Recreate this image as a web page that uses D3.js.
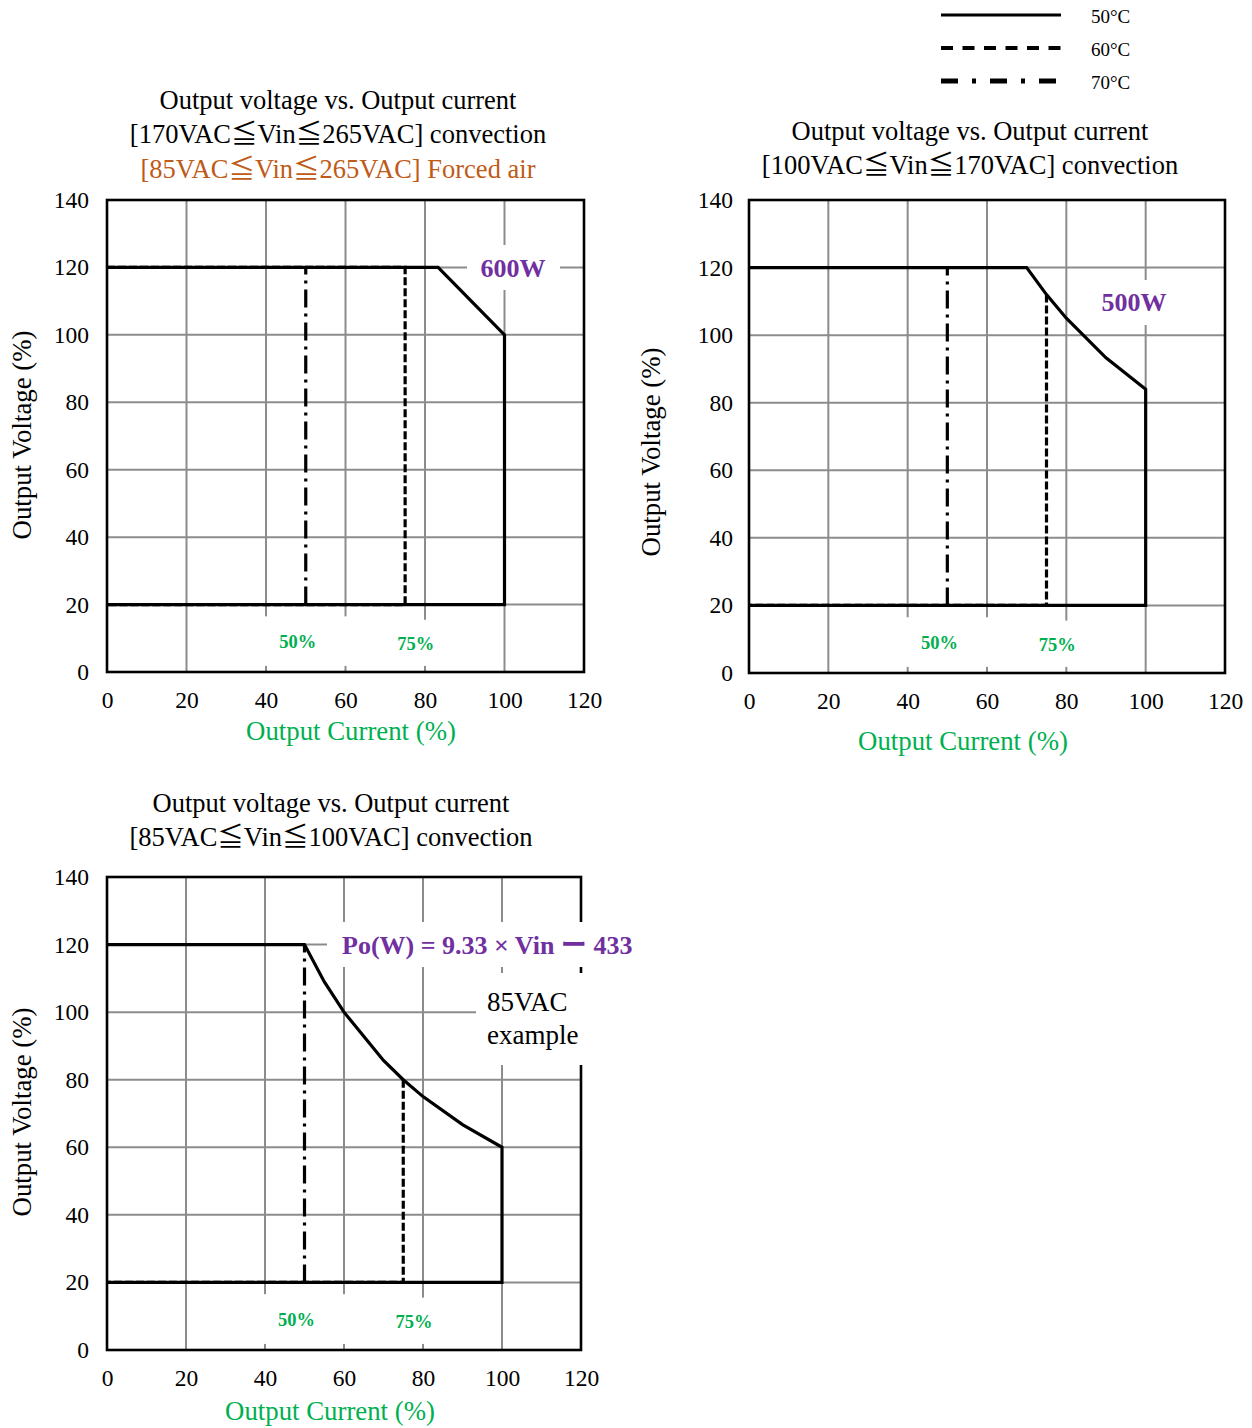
<!DOCTYPE html>
<html><head><meta charset="utf-8">
<script src="https://cdn.jsdelivr.net/npm/d3@7"></script>
<style>body{margin:0;background:#fff}svg{display:block}text{font-family:"Liberation Serif","Times New Roman",serif}</style>
</head><body>
<script>
// ---- data ----
const xTicks = [0, 20, 40, 60, 80, 100, 120];
const yTicks = [0, 20, 40, 60, 80, 100, 120, 140];
const legendLabels = ["50°C", "60°C", "70°C"];

const c1_50 = [[0,120],[83.3,120],[100,100],[100,20],[0,20]];
const c1_60 = [[0,120],[75,120],[75,20],[0,20]];
const c1_70 = [[50,20],[50,120]];

const c2_50 = [[0,120],[70,120],[75,112],[80,105],[90,93.3],[100,84],[100,20],[0,20]];
const c2_60 = [[75,112],[75,20],[0,20]];
const c2_70 = [[50,20],[50,120]];

const c3_50 = [[0,120],[50,120],[55,109],[60,100],[70,85.7],[75,80],[80,75],[90,66.7],[100,60],[100,20],[0,20]];
const c3_60 = [[75,80],[75,20],[0,20]];
const c3_70 = [[50,20],[50,120]];

const titles1 = ["Output voltage vs. Output current", "[170VAC≦Vin≦265VAC] convection", "[85VAC≦Vin≦265VAC] Forced air"];
const titles2 = ["Output voltage vs. Output current", "[100VAC≦Vin≦170VAC] convection"];
const titles3 = ["Output voltage vs. Output current", "[85VAC≦Vin≦100VAC] convection"];
const pctLabels = [["50%", 48, 9], ["75%", 77.7, 8.5]];

// ---- styles ----
const GREEN = "#00b050", PURPLE = "#7030a0", ORANGE = "#c05a17", GRID = "#8c8c8c";
const styles = {
  s50: {w: 3.2, dash: null},
  s60: {w: 3.2, dash: "8,3"},
  s70: {w: 3.2, dash: "18,6,3,6"}
};

const svg = d3.select("body").append("svg").attr("width", 1252).attr("height", 1428);

// text with CJK-width glyphs
function richText(sel, str) {
  str.split(/(≦|ー)/).forEach(part => {
    if (!part) return;
    const ts = sel.append("tspan").text(part);
    if (part === "≦" || part === "ー") ts.attr("font-family", "Noto Sans CJK JP");
  });
}

// legend
const legStyles = [{w:3,dash:null},{w:4,dash:"12,9.5"},{w:5,dash:"17,14,4,14"}];
const legY = d3.scaleBand().domain(legendLabels).range([0, 99]);
legendLabels.forEach((l, i) => {
  const y = legY(l) + 15;
  svg.append("line").attr("x1", 941).attr("x2", 1061).attr("y1", y).attr("y2", y)
    .attr("stroke", "#000").attr("stroke-width", legStyles[i].w)
    .attr("stroke-dasharray", legStyles[i].dash);
  svg.append("text").attr("x", 1091).attr("y", y + 1).attr("dy", "0.35em")
    .attr("font-size", 19).text(l);
});

function drawChart(cfg) {
  const g = svg.append("g");
  const x = d3.scaleLinear().domain([0, 120]).range([cfg.left, cfg.right]);
  const y = d3.scaleLinear().domain([0, 140]).range([cfg.bottom, cfg.top]);

  // titles
  cfg.titles.forEach((t, i) => {
    const tx = g.append("text").attr("x", cfg.titleX).attr("y", cfg.titleY[i]).attr("dy", "0.35em")
      .attr("text-anchor", "middle").attr("font-size", 26.5)
      .attr("fill", i === 2 ? ORANGE : "#000");
    richText(tx, t);
  });

  // grid
  g.selectAll(".vg").data(xTicks.slice(1, -1)).join("line")
    .attr("x1", d => x(d)).attr("x2", d => x(d)).attr("y1", cfg.top).attr("y2", cfg.bottom)
    .attr("stroke", GRID).attr("stroke-width", 2);
  g.selectAll(".hg").data(yTicks.slice(1, -1)).join("line")
    .attr("y1", d => y(d)).attr("y2", d => y(d)).attr("x1", cfg.left).attr("x2", cfg.right)
    .attr("stroke", GRID).attr("stroke-width", 2);
  // frame
  g.append("rect").attr("x", cfg.left).attr("y", cfg.top)
    .attr("width", cfg.right - cfg.left).attr("height", cfg.bottom - cfg.top)
    .attr("fill", "none").attr("stroke", "#000").attr("stroke-width", 2.6);

  // axes tick labels
  const xa = d3.axisBottom(x).tickValues(xTicks).tickSize(0).tickPadding(0);
  const xg = g.append("g").attr("transform", `translate(0,${cfg.bottom})`).call(xa);
  xg.select(".domain").remove();
  xg.selectAll("text").attr("font-size", 23.5).attr("font-family", "Liberation Serif")
    .attr("y", cfg.xTickDy).attr("dy", "0.35em").attr("fill", "#000");
  const ya = d3.axisLeft(y).tickValues(yTicks).tickSize(0).tickPadding(0);
  const yg = g.append("g").attr("transform", `translate(${cfg.yTickX},0)`).call(ya);
  yg.select(".domain").remove();
  yg.selectAll("text").attr("font-size", 23.5).attr("font-family", "Liberation Serif")
    .attr("x", 0).attr("fill", "#000");

  // axis titles
  g.append("text").attr("x", cfg.xTitle[0]).attr("y", cfg.xTitle[1]).attr("dy", "0.35em")
    .attr("text-anchor", "middle").attr("font-size", 26.8).attr("fill", GREEN).text("Output Current (%)");
  g.append("text").attr("transform", `translate(${cfg.yTitle[0]},${cfg.yTitle[1]}) rotate(-90)`)
    .attr("dy", "0.35em").attr("text-anchor", "middle").attr("font-size", 26.8).attr("fill", "#000")
    .text("Output Voltage (%)");

  // white label boxes
  cfg.boxes.forEach(b => {
    g.append("rect").attr("x", b[0]).attr("y", b[1]).attr("width", b[2] - b[0]).attr("height", b[3] - b[1]).attr("fill", "#fff");
  });
  // percent label boxes (data coords)
  const pb = [[33, 63, 16.5, 1.8], [66, 92, 15.5, 1.8]];
  pb.forEach(b => {
    g.append("rect").attr("x", x(b[0])).attr("y", y(b[2])).attr("width", x(b[1]) - x(b[0]))
      .attr("height", y(b[3]) - y(b[2])).attr("fill", "#fff");
  });

  // curves
  const line = d3.line().x(d => x(d[0])).y(d => y(d[1]));
  [["s70", cfg.d70], ["s60", cfg.d60], ["s50", cfg.d50]].forEach(([k, d]) => {
    g.append("path").attr("d", line(d)).attr("fill", "none").attr("stroke", "#000")
      .attr("stroke-width", styles[k].w).attr("stroke-dasharray", styles[k].dash)
      .attr("stroke-linejoin", "miter");
  });

  // pct labels
  pctLabels.forEach(p => {
    g.append("text").attr("x", x(p[1])).attr("y", y(p[2])).attr("dy", "0.35em")
      .attr("text-anchor", "middle").attr("font-size", 18.5).attr("font-weight", "bold")
      .attr("fill", GREEN).text(p[0]);
  });
  if (cfg.extra) cfg.extra(g, x, y);
}

drawChart({
  left: 107, right: 584, top: 200, bottom: 672,
  titles: titles1, titleX: 338, titleY: [100, 134, 169],
  xTickDy: 28, yTickX: 89, xTitle: [351, 731], yTitle: [22, 435],
  boxes: [[467, 245, 560, 290]],
  d50: c1_50, d60: c1_60, d70: c1_70,
  extra: (g, x, y) => {
    g.append("text").attr("x", 513).attr("y", y(120)).attr("dy", "0.35em").attr("text-anchor", "middle")
      .attr("font-size", 26).attr("font-weight", "bold").attr("fill", PURPLE).text("600W");
  }
});

drawChart({
  left: 749, right: 1225, top: 200, bottom: 673,
  titles: titles2, titleX: 970, titleY: [131, 165],
  xTickDy: 28, yTickX: 733, xTitle: [963, 741], yTitle: [651, 452],
  boxes: [[1095, 280, 1175, 325]],
  d50: c2_50, d60: c2_60, d70: c2_70,
  extra: (g, x, y) => {
    g.append("text").attr("x", 1134).attr("y", 302).attr("dy", "0.35em").attr("text-anchor", "middle")
      .attr("font-size", 26).attr("font-weight", "bold").attr("fill", PURPLE).text("500W");
  }
});

drawChart({
  left: 107, right: 581, top: 877, bottom: 1350,
  titles: titles3, titleX: 331, titleY: [803, 837],
  xTickDy: 28, yTickX: 89, xTitle: [330, 1411], yTitle: [22, 1112],
  boxes: [[327, 922, 650, 967], [476, 973, 600, 1065]],
  d50: c3_50, d60: c3_60, d70: c3_70,
  extra: (g, x, y) => {
    const eq = g.append("text").attr("x", 342).attr("y", y(120)).attr("dy", "0.35em")
      .attr("font-size", 26).attr("font-weight", "bold").attr("fill", PURPLE);
    richText(eq, "Po(W) = 9.33 × Vin ー 433");
    g.append("text").attr("x", 487).attr("y", 1002).attr("dy", "0.35em")
      .attr("font-size", 27).attr("fill", "#000").text("85VAC");
    g.append("text").attr("x", 487).attr("y", 1035).attr("dy", "0.35em")
      .attr("font-size", 27).attr("fill", "#000").text("example");
  }
});
</script>
</body></html>
